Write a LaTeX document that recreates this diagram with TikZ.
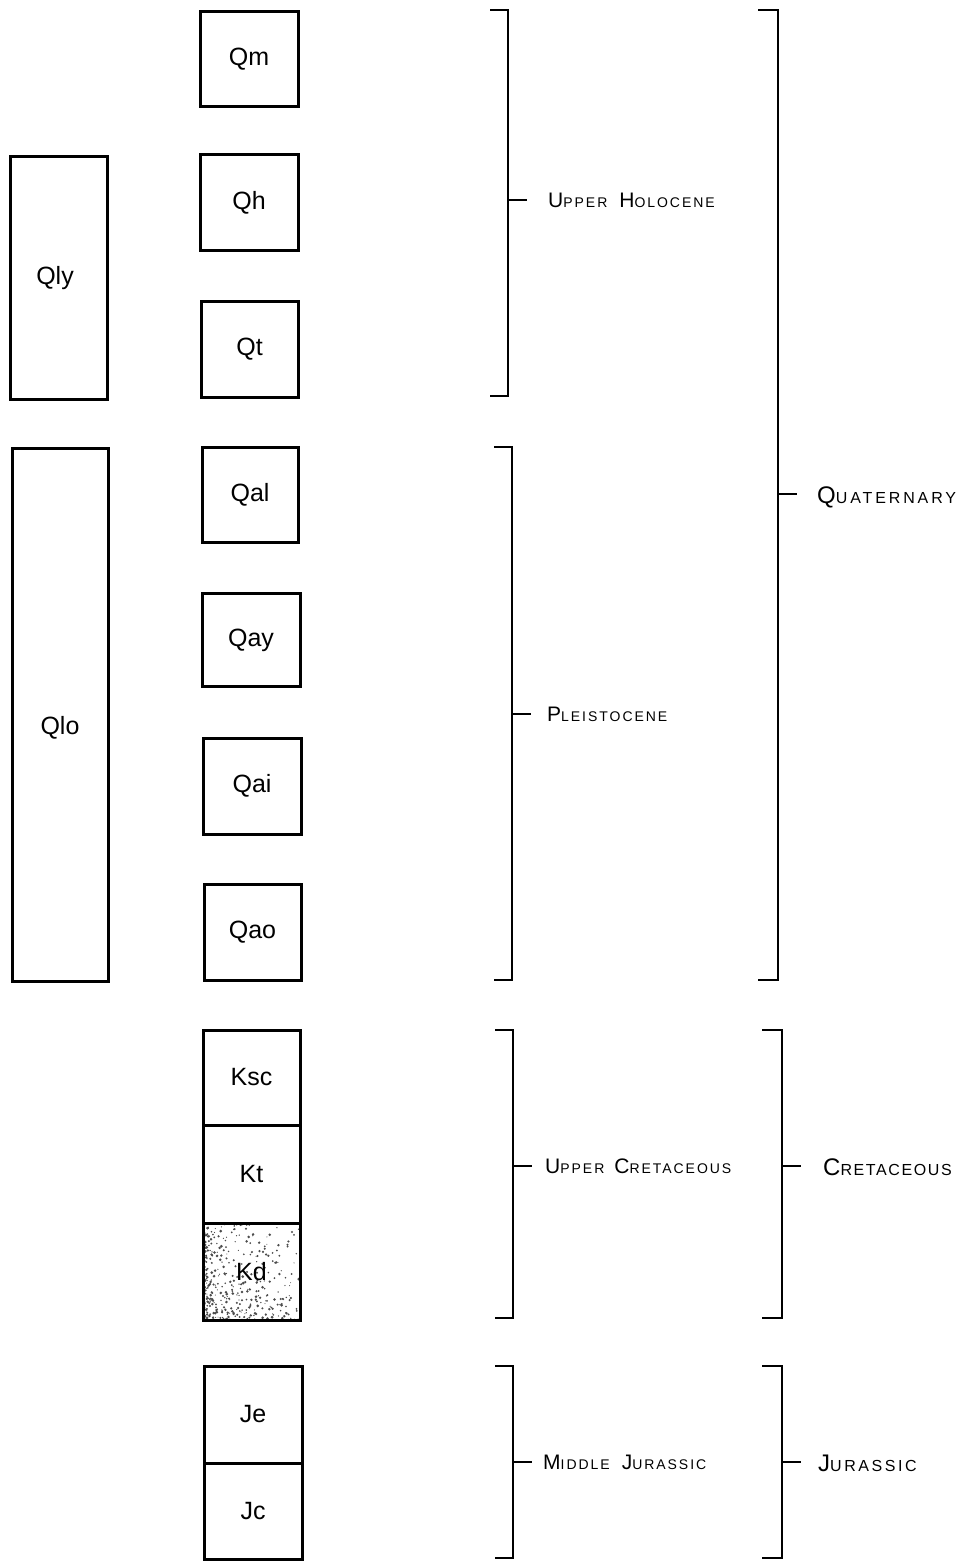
\documentclass[tikz,border=0pt]{standalone}
\usepackage{fontspec}
\setmainfont{Liberation Sans}
\usetikzlibrary{calc}

% hand-lettered style small caps: large initial, smaller spaced capitals
\newcommand\capword[2]{{\fontsize{21}{21}\selectfont #1}{\fontsize{14}{14}\selectfont\addfontfeature{LetterSpace=14}#2}}
% the same, a size larger, for the period names (optional letter spacing)
\newcommand\capwordl[3][16]{{\fontsize{24}{24}\selectfont #2}{\fontsize{16}{16}\selectfont\addfontfeature{LetterSpace=#1}#3}}

% bracket: name, x, top, bottom, tick, hook length
\newcommand\agebracket[6]{%
  \coordinate (#1-t) at (#2,#3);
  \coordinate (#1-b) at (#2,#4);
  \coordinate (#1-m) at (#2,#5);
  \draw[brk] ($(#1-t)+(-#6,0)$) -- (#1-t) -- (#1-b) -- ++(-#6,0);
  \draw[brk] (#1-m) -- ++(19,0);
}

\begin{document}
\begin{tikzpicture}[x=1pt,y=-1pt,
  unitbox/.style={draw,line width=3pt,inner sep=0pt,font=\fontsize{25}{25}\selectfont},
  brk/.style={line width=2.7pt},
  agelabel/.style={anchor=base west,inner sep=0pt}]

% page
\fill[white] (0,0) rectangle (964,1562);
\useasboundingbox (0,0) rectangle (964,1562);

% ---- left column: lacustrine units ----
\node[unitbox,minimum width=97pt,minimum height=242pt] (qly) at (58.5,278) {};
\node at (55,278) (qlytxt) {\fontsize{25}{25}\selectfont Qly};
\node[unitbox,minimum width=96pt,minimum height=533pt] (qlo) at (60,714.5) {};
\node at (60,728) (qlotxt) {\fontsize{25}{25}\selectfont Qlo};

% ---- middle column: Quaternary units ----
\node[unitbox,minimum width=98pt,minimum height=95pt] (qm)  at (249,59.5) {Qm};
\node[unitbox,minimum width=98pt,minimum height=96pt] (qh)  at (249,203)  {Qh};
\node[unitbox,minimum width=97pt,minimum height=96pt] (qt)  at (249.5,349) {Qt};
\node[unitbox,minimum width=96pt,minimum height=95pt] (qal) at (250,494.5) {Qal};
\node[unitbox,minimum width=98pt,minimum height=93pt] (qay) at (251,640)  {Qay};
\node[unitbox,minimum width=98pt,minimum height=96pt] (qai) at (252,786)  {Qai};
\node[unitbox,minimum width=97pt,minimum height=96pt] (qao) at (252.5,932.5) {Qao};

% ---- Cretaceous stack ----
% stippled fill of the lowest unit
\begin{scope}
  \clip (203,1223) rectangle (300,1320);
  \pgfmathsetseed{7}
  \foreach \i in {1,...,420}{
    \pgfmathsetmacro\dx{204+95*rnd^1.8}
    \pgfmathsetmacro\dy{1320-97*rnd^1.6}
    \pgfmathsetmacro\dr{0.5+1.0*rnd}
    \fill[black!70] (\dx,\dy) circle (\dr pt);
  }
\end{scope}
\node[unitbox,minimum width=97pt,minimum height=95pt] (ksc) at (251.5,1077.5) {Ksc};
\node[unitbox,minimum width=97pt,minimum height=98pt] (kt)  at (251.5,1174)   {Kt};
\node[unitbox,minimum width=97pt,minimum height=97pt] (kd)  at (251.5,1271.5) {Kd};

% ---- Jurassic stack ----
\node[unitbox,minimum width=98pt,minimum height=97pt] (je) at (253,1414.5) {Je};
\node[unitbox,minimum width=98pt,minimum height=96pt] (jc) at (253,1511)   {Jc};

% ---- epoch brackets ----
\agebracket{uh}{508}{10}{396}{200}{18}
\agebracket{pl}{512}{447}{980}{714}{18}
\agebracket{uc}{513}{1030}{1318}{1166}{18}
\agebracket{mj}{513}{1366}{1558}{1462}{18}

% ---- period brackets ----
\agebracket{qu}{778}{10}{980}{494}{20}
\agebracket{cr}{782}{1030}{1318}{1166}{20}
\agebracket{ju}{782}{1366}{1558}{1462}{20}

% ---- labels ----
\node[agelabel] (uhlab) at (548,207.5) {\capword{U}{PPER}\hspace{12pt}\capword{H}{OLOCENE}};
\node[agelabel] (pllab) at (547,721.5) {\capword{P}{LEISTOCENE}\hspace{6pt}};
\node[agelabel] (uclab) at (545,1173.5) {\capword{U}{PPER}\hspace{10pt}\capword{C}{RETACEOUS}};
\node[agelabel] (mjlab) at (543,1469.5) {\capword{M}{IDDLE}\hspace{12pt}\capword{J}{URASSIC}};
\node[agelabel] (qulab) at (817,503) {\capwordl[18]{Q}{UATERNARY}};
\node[agelabel] (crlab) at (823,1175) {\capwordl[10]{C}{RETACEOUS}};
\node[agelabel] (julab) at (818,1471) {\capwordl{J}{URASSIC}};

\end{tikzpicture}
\end{document}
